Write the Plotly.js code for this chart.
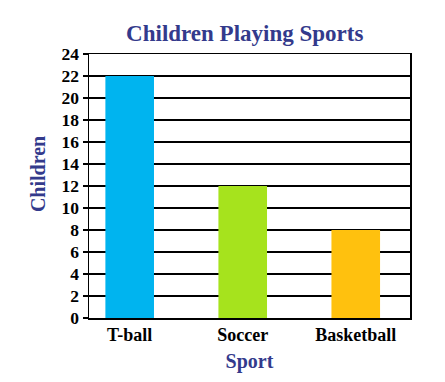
<!DOCTYPE html>
<html>
<head>
<meta charset="utf-8">
<script src="https://cdn.plot.ly/plotly-3.0.1.min.js"></script>
<style>html,body{margin:0;padding:0;background:#fff;}#chart{width:445px;height:382px;}</style>
</head>
<body>
<div id="chart"></div>
<script>
var sports = ["T-ball", "Soccer", "Basketball"];
var children = [22, 12, 8];
var barColors = ["#00B4EF", "#A6E31D", "#FFC10E"];
var yTicks = [0, 2, 4, 6, 8, 10, 12, 14, 16, 18, 20, 22, 24];

var serif = "Liberation Serif";
var titleColor = "#333a8c";

var data = [{
  type: "bar",
  x: sports,
  y: children,
  marker: {color: barColors, line: {width: 0}},
  width: 0.43,
  hoverinfo: "x+y"
}];

var layout = {
  width: 445,
  height: 382,
  margin: {l: 89, r: 35, t: 54, b: 64},
  paper_bgcolor: "#fff",
  plot_bgcolor: "#fff",
  showlegend: false,
  font: {family: serif},
  title: {
    text: "<b>Children Playing Sports</b>",
    font: {family: serif, size: 23, color: titleColor},
    x: 0.55, xanchor: "center",
    y: 0.915, yanchor: "middle"
  },
  annotations: [{
    text: "<b>Children</b>",
    xref: "paper", yref: "paper",
    x: -0.159, y: 0.545,
    xanchor: "center", yanchor: "middle",
    textangle: -90, showarrow: false,
    font: {family: serif, size: 20, color: titleColor}
  }],
  xaxis: {
    type: "category",
    range: [-0.36, 2.48],
    tickvals: sports,
    ticktext: sports.map(function (s) { return "<b>" + s + "</b>"; }),
    showline: true, linecolor: "#000", linewidth: 1.5, mirror: true,
    ticks: "", showgrid: false,
    tickfont: {family: serif, size: 18, color: "#000"},
    title: {text: "<b>Sport</b>", font: {family: serif, size: 20, color: titleColor}, standoff: 10}
  },
  yaxis: {
    range: [0, 24],
    tickvals: yTicks,
    ticktext: yTicks.map(function (v) { return "<b>" + v + "</b>"; }),
    showline: true, linecolor: "#000", linewidth: 1.5, mirror: true,
    showgrid: true, gridcolor: "#000", gridwidth: 1.3,
    zeroline: false,
    ticks: "outside", ticklen: 5, tickcolor: "#000", tickwidth: 1.3,
    tickfont: {family: serif, size: 17.5, color: "#000"}
  }
};

Plotly.newPlot("chart", data, layout, {displayModeBar: false, staticPlot: true});
</script>
</body>
</html>
